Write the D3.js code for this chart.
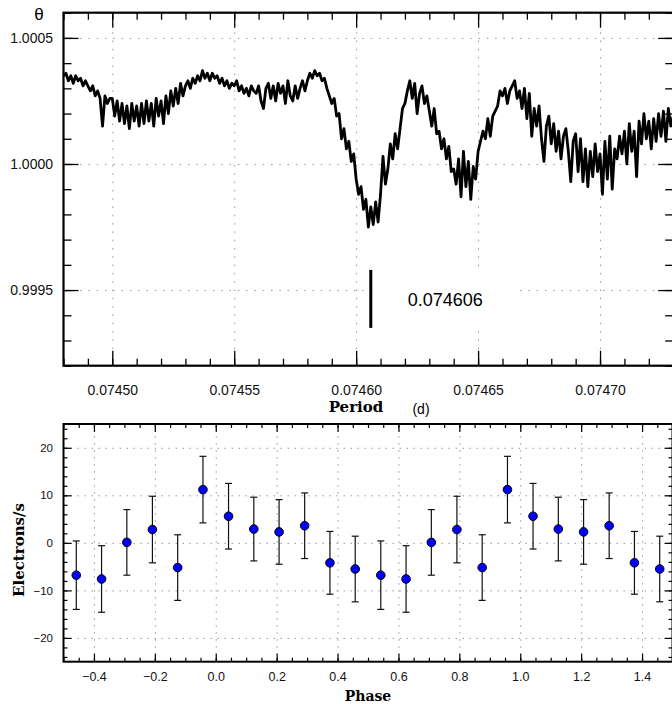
<!DOCTYPE html>
<html><head><meta charset="utf-8">
<script src="https://cdn.jsdelivr.net/npm/d3@7"></script>
<style>body{margin:0;background:#fff} svg{display:block}</style>
</head><body><svg id="c" width="672" height="704"></svg>
<script>
// ---------- Top panel data: theta vs trial period ----------
const periodStart = 0.07448;
const periodStep = 0.000001;
// theta offset from 1, in units of 1e-5, one value per trial period
const thetaDev = [
 35, 36, 33, 35, 32, 35, 33, 34, 31, 33,
 31, 29, 31, 27, 29, 26, 15, 27, 24, 26,
 26, 19, 25, 17, 24, 16, 23, 14, 24, 17,
 23, 15, 24, 16, 25, 17, 24, 15, 26, 19,
 25, 16, 27, 20, 29, 23, 30, 24, 32, 27,
 31, 33, 30, 34, 32, 35, 33, 37, 34, 36,
 33, 36, 34, 35, 32, 34, 31, 33, 30, 32,
 31, 33, 29, 31, 28, 30, 27, 31, 29, 28,
 31, 25, 22, 30, 32, 26, 31, 25, 32, 28,
 31, 24, 33, 27, 25, 31, 26, 30, 33, 29,
 33, 36, 34, 37, 35, 36, 33, 34, 30, 27,
 24, 26, 19, 20, 10, 14, 6, 9, 1, 4,
 -6, -12, -9, -18, -14, -25, -17, -24, -15, -23,
 -12, 3, -8, -2, 8, 2, 12, 6, 14, 22,
 24, 29, 33, 26, 32, 20, 28, 31, 24, 27,
 21, 15, 22, 12, 13, 6, 10, 2, 7, -3,
 -2, -8, 2, -13, 5, -9, 1, -14, -1, -6,
 5, 9, 13, 10, 18, 11, 19, 21, 23, 29,
 27, 30, 24, 29, 31, 33, 26, 29, 22, 30,
 18, 28, 11, 22, 15, 23, 10, 1, 15, 19,
 8, 16, 5, 13, 2, 11, 14, 5, -7, 9,
 12, -3, 10, -7, 6, -9, 5, -5, 8, -3,
 4, -12, 9, -6, 11, -10, 6, 2, 11, 4,
 13, 0, 16, 5, 13, -5, 17, 8, 20, 10,
 17, 6, 18, 9, 20, 11, 21, 9, 22, 15, 19
];
const bestPeriod = 0.074606;
const bestLabel = "0.074606";
const topXTicks = [0.07450, 0.07455, 0.07460, 0.07465, 0.07470];
const topYTicks = [0.9995, 1.0000, 1.0005];

// ---------- Bottom panel data: folded light curve ----------
const phases = [-0.458, -0.375, -0.292, -0.208, -0.125, -0.042, 0.042, 0.125, 0.208, 0.292, 0.375, 0.458,
                0.542, 0.625, 0.708, 0.792, 0.875, 0.958, 1.042, 1.125, 1.208, 1.292, 1.375, 1.458];
const rates  = [-6.8, -7.6, 0.1, 2.8, -5.2, 11.2, 5.6, 2.9, 2.3, 3.6, -4.2, -5.5,
                -6.8, -7.6, 0.1, 2.8, -5.2, 11.2, 5.6, 2.9, 2.3, 3.6, -4.2, -5.5];
const errors = [7.2, 7.0, 6.9, 7.0, 6.9, 7.0, 6.9, 6.7, 6.8, 6.9, 6.6, 6.9,
                7.2, 7.0, 6.9, 7.0, 6.9, 7.0, 6.9, 6.7, 6.8, 6.9, 6.6, 6.9];
const botXTicks = [-0.4, -0.2, 0.0, 0.2, 0.4, 0.6, 0.8, 1.0, 1.2, 1.4];
const botYTicks = [-20, -10, 0, 10, 20];

const svg = d3.select("#c");
const FONT = "'Liberation Sans', Arial, Helvetica, sans-serif";
const SERIF = "'DejaVu Serif', 'Liberation Serif', serif";

function tickAxis(g, axisFn, scale, values, size, translate, width) {
  const a = axisFn(scale).tickValues(values).tickSize(size).tickFormat("");
  const s = g.append("g").attr("transform", translate).call(a);
  s.select(".domain").remove();
  s.selectAll("line").attr("stroke", "#000").attr("stroke-width", width || 1.3);
  return s;
}
function labelAxis(g, axisFn, scale, values, fmt, pad, translate, fs) {
  const a = axisFn(scale).tickValues(values).tickSize(0).tickPadding(pad).tickFormat(fmt);
  const s = g.append("g").attr("transform", translate).call(a);
  s.select(".domain").remove();
  s.selectAll("text").attr("font-family", FONT).attr("font-size", fs).attr("fill", "#111");
  return s;
}
function gridAxis(g, axisFn, scale, values, size, translate, dash) {
  const a = axisFn(scale).tickValues(values).tickSize(size).tickFormat("");
  const s = g.append("g").attr("transform", translate).call(a);
  s.select(".domain").remove();
  s.selectAll("line").attr("stroke", "#999").attr("stroke-width", 1).attr("stroke-dasharray", dash);
  return s;
}

// ================= TOP PANEL =================
const T = {l: 63.5, r: 673.2, t: 12.7, b: 365.7};
const px = d3.scaleLinear().domain([0.07448, 0.07473]).range([T.l, T.r]);
const py = d3.scaleLinear().domain([0.9992, 1.0006]).range([T.b, T.t]);
const gTop = svg.append("g");

gridAxis(gTop, d3.axisBottom, px, topXTicks, -(T.b - T.t), `translate(0,${T.b})`, "1.5,6.8");
gridAxis(gTop, d3.axisLeft, py, topYTicks, -(T.r - T.l), `translate(${T.l},0)`, "1.5,6.8");

// label backdrop
const mx = px(bestPeriod);
gTop.append("rect").attr("x", mx + 4).attr("y", py(0.99959)).attr("width", 140).attr("height", 62).attr("fill", "#fff");

const thetaVals = thetaDev.map(v => 1 + v * 1e-5);
const line = d3.line()
  .x((d, i) => px(periodStart + i * periodStep))
  .y(d => py(d));
gTop.append("path").datum(thetaVals).attr("d", line)
  .attr("fill", "none").attr("stroke", "#000").attr("stroke-width", 2.8)
  .attr("stroke-linejoin", "round");

// best period marker
gTop.append("line").attr("x1", mx).attr("x2", mx).attr("y1", py(0.99958)).attr("y2", py(0.99935))
  .attr("stroke", "#000").attr("stroke-width", 3);
gTop.append("text").attr("x", mx + 37).attr("y", py(0.99945) + 3).text(bestLabel)
  .attr("font-family", FONT).attr("font-size", 18);

// ticks
const topXMinor = d3.range(0, 26).map(i => +(0.07448 + i * 0.00001).toFixed(5));
const topYMinor = d3.range(0, 15).map(i => +(0.9992 + i * 0.0001).toFixed(4));
tickAxis(gTop, d3.axisBottom, px, topXMinor, -7, `translate(0,${T.b})`);
tickAxis(gTop, d3.axisBottom, px, topXTicks, -15, `translate(0,${T.b})`);
tickAxis(gTop, d3.axisTop, px, topXMinor, -7, `translate(0,${T.t})`);
tickAxis(gTop, d3.axisTop, px, topXTicks, -15, `translate(0,${T.t})`);
tickAxis(gTop, d3.axisLeft, py, topYMinor, -8, `translate(${T.l},0)`);
tickAxis(gTop, d3.axisLeft, py, topYTicks, -15, `translate(${T.l},0)`);
tickAxis(gTop, d3.axisRight, py, topYMinor, -8, `translate(${T.r},0)`);
tickAxis(gTop, d3.axisRight, py, topYTicks, -15, `translate(${T.r},0)`);

labelAxis(gTop, d3.axisBottom, px, topXTicks, d3.format(".5f"), 19, `translate(0,${T.b})`, 14);
labelAxis(gTop, d3.axisLeft, py, topYTicks, d3.format(".4f"), 10.5, `translate(${T.l},0)`, 14);

// frame
gTop.append("rect").attr("x", T.l).attr("y", T.t).attr("width", T.r - T.l).attr("height", T.b - T.t)
  .attr("fill", "none").attr("stroke", "#000").attr("stroke-width", 2.2);

gTop.append("text").attr("x", 39).attr("y", 20).attr("text-anchor", "middle").text("θ")
  .attr("font-family", FONT).attr("font-size", 17);
gTop.append("text").attr("x", 356).attr("y", 412).attr("text-anchor", "middle").text("Period")
  .attr("font-family", SERIF).attr("font-weight", "bold").attr("font-size", 15);
gTop.append("text").attr("x", 421).attr("y", 414).attr("text-anchor", "middle").text("(d)")
  .attr("font-family", FONT).attr("font-size", 14);

// ================= BOTTOM PANEL =================
const B = {l: 63.5, r: 672.5, t: 424, b: 661.7};
const bx = d3.scaleLinear().domain([-0.5, 1.5]).range([B.l, B.r]);
const by = d3.scaleLinear().domain([-25, 25]).range([B.b, B.t]);
const gBot = svg.append("g");

gridAxis(gBot, d3.axisBottom, bx, botXTicks, -(B.b - B.t), `translate(0,${B.b})`, "1.5,5.5");
gridAxis(gBot, d3.axisLeft, by, botYTicks, -(B.r - B.l), `translate(${B.l},0)`, "1.5,5.5");

const botXMinor = d3.range(0, 41).map(i => +(-0.5 + i * 0.05).toFixed(2));
const botYMinor = d3.range(0, 25).map(i => -24 + i * 2);
tickAxis(gBot, d3.axisBottom, bx, botXMinor, -4, `translate(0,${B.b})`, 1.2);
tickAxis(gBot, d3.axisBottom, bx, botXTicks, -8, `translate(0,${B.b})`, 1.2);
tickAxis(gBot, d3.axisTop, bx, botXMinor, -4, `translate(0,${B.t})`, 1.2);
tickAxis(gBot, d3.axisTop, bx, botXTicks, -8, `translate(0,${B.t})`, 1.2);
tickAxis(gBot, d3.axisLeft, by, botYMinor, -4, `translate(${B.l},0)`, 1.2);
tickAxis(gBot, d3.axisLeft, by, botYTicks, -8, `translate(${B.l},0)`, 1.2);
tickAxis(gBot, d3.axisRight, by, botYMinor, -4, `translate(${B.r},0)`, 1.2);
tickAxis(gBot, d3.axisRight, by, botYTicks, -8, `translate(${B.r},0)`, 1.2);

labelAxis(gBot, d3.axisBottom, bx, botXTicks, d3.format(".1f"), 10.5, `translate(0,${B.b})`, 12.5);
labelAxis(gBot, d3.axisLeft, by, botYTicks, d3.format("d"), 10.5, `translate(${B.l},0)`, 11.5);

// error bars + points
const pts = phases.map((p, i) => ({p, v: rates[i], e: errors[i]}));
const eb = gBot.append("g").attr("stroke", "#111").attr("stroke-width", 1.2);
pts.forEach(d => {
  const x = bx(d.p);
  eb.append("line").attr("x1", x).attr("x2", x).attr("y1", by(d.v - d.e)).attr("y2", by(d.v + d.e));
  eb.append("line").attr("x1", x - 3.5).attr("x2", x + 3.5).attr("y1", by(d.v - d.e)).attr("y2", by(d.v - d.e));
  eb.append("line").attr("x1", x - 3.5).attr("x2", x + 3.5).attr("y1", by(d.v + d.e)).attr("y2", by(d.v + d.e));
});
gBot.selectAll("circle.pt").data(pts).join("circle").attr("class", "pt")
  .attr("cx", d => bx(d.p)).attr("cy", d => by(d.v)).attr("r", 4.3)
  .attr("fill", "#0000ff").attr("stroke", "#000").attr("stroke-width", 1);

gBot.append("rect").attr("x", B.l).attr("y", B.t).attr("width", B.r - B.l).attr("height", B.b - B.t)
  .attr("fill", "none").attr("stroke", "#000").attr("stroke-width", 2);

gBot.append("text").attr("x", 368).attr("y", 701).attr("text-anchor", "middle").text("Phase")
  .attr("font-family", SERIF).attr("font-weight", "bold").attr("font-size", 14);
gBot.append("text").attr("transform", "translate(24,550) rotate(-90)").attr("text-anchor", "middle")
  .text("Electrons/s").attr("font-family", SERIF).attr("font-weight", "bold").attr("font-size", 15);
</script></body></html>
